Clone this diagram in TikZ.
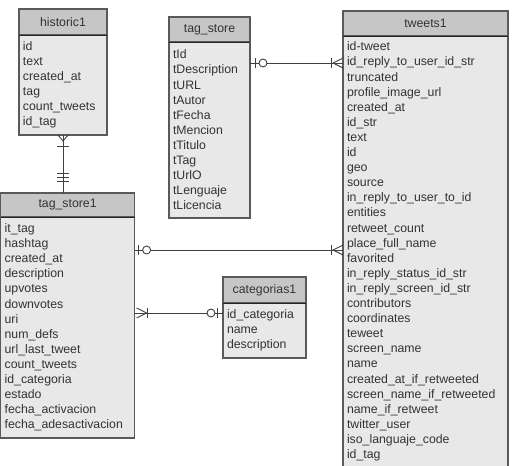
\documentclass[tikz,border=0pt]{standalone}
\usepackage{fontspec}
\setmainfont{Liberation Sans}
\usetikzlibrary{positioning}
\definecolor{hdrgray}{HTML}{C6C6C6}
\definecolor{bodygray}{HTML}{E8E8E8}
\definecolor{framegray}{HTML}{5A5A5A}
\definecolor{txtgray}{HTML}{333333}
\begin{document}
\begin{tikzpicture}[x=1pt,y=-1pt]
\tikzstyle{tablehead}=[rectangle,draw=framegray,line width=1.1pt,fill=hdrgray,
inner sep=0pt,outer sep=0pt,text=txtgray,font=\fontsize{12.3}{15.1}\selectfont]
\tikzstyle{tablebody}=[rectangle,draw=framegray,line width=1.1pt,fill=bodygray,
inner xsep=4pt,inner ysep=0pt,outer sep=0pt,align=left,text=txtgray,
font=\fontsize{12.3}{15.1}\selectfont]
\tikzstyle{rel}=[draw=black!75,line width=0.9pt]

\useasboundingbox (0,0) rectangle (517,466);

% historic1
\node[tablehead,anchor=north west,minimum width=88pt,minimum height=26pt] at (19,9) (hist) {historic1};
\node[tablebody,below=0pt of hist,text width=80pt,minimum height=100pt] (histb)
{id\\text\\created\_at\\tag\\count\_tweets\\id\_tag};

% tag_store
\node[tablehead,anchor=north west,minimum width=81pt,minimum height=25pt] at (169,17) (ts) {tag\_store};
\node[tablebody,below=0pt of ts,text width=73pt,minimum height=176pt] (tsb)
{tId\\tDescription\\tURL\\tAutor\\tFecha\\tMencion\\tTitulo\\tTag\\tUrlO\\tLenguaje\\tLicencia};

% tweets1
\node[tablehead,anchor=north west,minimum width=165pt,minimum height=25pt] at (343,11) (tw) {tweets1};
\node[tablebody,below=0pt of tw,text width=157pt,minimum height=431pt] (twb)
{id-tweet\\id\_reply\_to\_user\_id\_str\\truncated\\profile\_image\_url\\created\_at\\id\_str\\text\\id\\geo\\source\\
in\_reply\_to\_user\_to\_id\\entities\\retweet\_count\\place\_full\_name\\favorited\\in\_reply\_status\_id\_str\\
in\_reply\_screen\_id\_str\\contributors\\coordinates\\teweet\\screen\_name\\name\\created\_at\_if\_retweeted\\
screen\_name\_if\_retweeted\\name\_if\_retweet\\twitter\_user\\iso\_languaje\_code\\id\_tag};

% tag_store1
\node[tablehead,anchor=north west,minimum width=134pt,minimum height=24pt] at (0.6,193) (ts1) {tag\_store1};
\node[tablebody,below=0pt of ts1,text width=126pt,minimum height=221pt] (ts1b)
{it\_tag\\hashtag\\created\_at\\description\\upvotes\\downvotes\\uri\\num\_defs\\url\_last\_tweet\\
count\_tweets\\id\_categoria\\estado\\fecha\_activacion\\fecha\_adesactivacion};

% categorias1
\node[tablehead,anchor=north west,minimum width=83pt,minimum height=26pt] at (223,277) (cat) {categorias1};
\node[tablebody,below=0pt of cat,text width=75pt,minimum height=55pt] (catb)
{id\_categoria\\name\\description};

% header separators
\foreach \t in {histb,tsb,twb,ts1b,catb}
  \draw[black!85,line width=1pt] (\t.north west) -- (\t.north east);

% connector ends
\coordinate (hjoin) at (histb.south |- ts1.north);
\coordinate (c1a) at ([yshift=-21pt]tsb.north east);
\coordinate (c1b) at ([yshift=-27pt]twb.north west);
\coordinate (c2a) at ([yshift=-33pt]ts1b.north east);
\coordinate (c2b) at ([yshift=-214pt]twb.north west);
\coordinate (c3a) at ([yshift=-96pt]ts1b.north east);
\coordinate (c3b) at ([yshift=-10pt]catb.north west);

% historic1 -- tag_store1
\draw[rel] (histb.south) -- (hjoin);
\draw[rel] (histb.south) ++(-5,0) -- ++(5,6) -- ++(5,-6);
\draw[rel] (histb.south) ++(-6,11) -- ++(12,0);
\foreach \d in {12,16,20}
  \draw[rel] (hjoin) ++(-6,-\d) -- ++(12,0);

% tag_store -- tweets1
\draw[rel] (c1a) -- (c1b);
\draw[rel] (c1a) ++(5,-5) -- ++(0,10);
\draw[rel,fill=white] (c1a) ++(13,0) circle (4pt);
\draw[rel] (c1b) ++(-12,-5) -- ++(0,10);
\draw[rel] (c1b) ++(0,-5) -- ++(-10,5) -- ++(10,5);

% tag_store1 -- tweets1
\draw[rel] (c2a) -- (c2b);
\draw[rel] (c2a) ++(4,-5) -- ++(0,10);
\draw[rel,fill=white] (c2a) ++(12,0) circle (4pt);
\draw[rel] (c2b) ++(-12,-5) -- ++(0,10);
\draw[rel] (c2b) ++(0,-5) -- ++(-10,5) -- ++(10,5);

% tag_store1 -- categorias1
\draw[rel] (c3a) -- (c3b);
\draw[rel] (c3a) ++(2,-5) -- ++(10,5) -- ++(-10,5);
\draw[rel] (c3a) ++(13,-5) -- ++(0,10);
\draw[rel,fill=white] (c3b) ++(-12,0) circle (4pt);
\draw[rel] (c3b) ++(-6,-5) -- ++(0,10);

\end{tikzpicture}
\end{document}
